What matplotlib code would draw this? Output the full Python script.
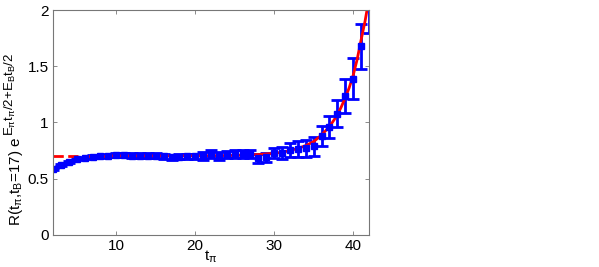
import matplotlib
matplotlib.use("Agg")
import matplotlib.pyplot as plt
from matplotlib.transforms import IdentityTransform

plt.rcParams["font.family"] = ["Liberation Sans", "DejaVu Sans"]
plt.rcParams["mathtext.fontset"] = "custom"
plt.rcParams["mathtext.rm"] = "Liberation Sans"
plt.rcParams["mathtext.it"] = "Liberation Sans"

# data points
t_pi = list(range(2, 43))
ratio = [0.585, 0.622, 0.652, 0.672, 0.683, 0.695, 0.700, 0.705, 0.712, 0.715,
         0.705, 0.703, 0.703, 0.703, 0.700, 0.692, 0.697, 0.700, 0.700, 0.705,
         0.718, 0.705, 0.715, 0.718, 0.722, 0.718, 0.680, 0.690, 0.726, 0.730,
         0.752, 0.767, 0.770, 0.788, 0.880, 0.958, 1.078, 1.233, 1.391, 1.676,
         2.05]
ratio_err = [0.008, 0.008, 0.008, 0.008, 0.012, 0.012, 0.012, 0.012, 0.018, 0.018,
             0.022, 0.022, 0.022, 0.022, 0.022, 0.022, 0.022, 0.022, 0.022, 0.035,
             0.035, 0.035, 0.035, 0.035, 0.035, 0.035, 0.040, 0.040, 0.044, 0.056,
             0.062, 0.070, 0.074, 0.086, 0.089, 0.099, 0.121, 0.151, 0.179, 0.200,
             0.25]

# fit curve
fit_t = [9, 12, 15, 18, 21, 24, 26, 28, 30, 31, 32, 33, 34, 35, 36, 37,
         38, 38.5, 39, 39.5, 40, 40.5, 41, 41.5, 42]
fit_val = [0.703, 0.703, 0.703, 0.703, 0.704, 0.706, 0.709, 0.715, 0.726, 0.735,
           0.750, 0.770, 0.794, 0.830, 0.889, 0.963, 1.067, 1.140, 1.220, 1.310,
           1.420, 1.560, 1.733, 1.900, 2.100]
# constant extension (dashed)
ext_t = [2, 9]
ext_val = [0.703, 0.703]

fig = plt.figure(figsize=(5.99, 2.67), dpi=100)
ax = fig.add_axes([0.0885, 0.12, 0.5275, 0.8425])

ax.errorbar(t_pi, ratio, yerr=ratio_err, fmt="s", color="blue", ms=4,
            elinewidth=2, capsize=4, capthick=2, clip_on=True)
ax.plot(ext_t, ext_val, "--", color="red", lw=2)
ax.plot(fit_t, fit_val, "-", color="red", lw=2)

ax.set_xlim(2, 42)
ax.set_ylim(0, 2)
ax.set_xticks([10, 20, 30, 40])
ax.set_yticks([0, 0.5, 1, 1.5, 2])
ax.set_yticklabels(["0", "0.5", "1", "1.5", "2"])
ax.tick_params(direction="in", top=True, right=True, length=3, width=0.6,
               color="#777777", labelsize=11, pad=3)
for s in ax.spines.values():
    s.set_color("#777777")
    s.set_linewidth(0.8)

ax.set_xlabel(r"t$_\pi$", fontsize=11, labelpad=-3)

# y label: base text plus a larger exponent placed after it
lab = fig.text(25, 267 - 226, r"R(t$_\pi$,t$_B$=17) e", fontsize=11,
               rotation=90, ha="right", va="bottom",
               transform=IdentityTransform())
fig.canvas.draw()
bb = lab.get_window_extent()
fig.text(bb.x0 - 4, bb.y1 + 1, r"E$_\pi$t$_\pi$/2+E$_B$t$_B$/2", fontsize=9.5,
         rotation=90, ha="left", va="bottom", transform=IdentityTransform())

fig.savefig("out.png", dpi=100)
